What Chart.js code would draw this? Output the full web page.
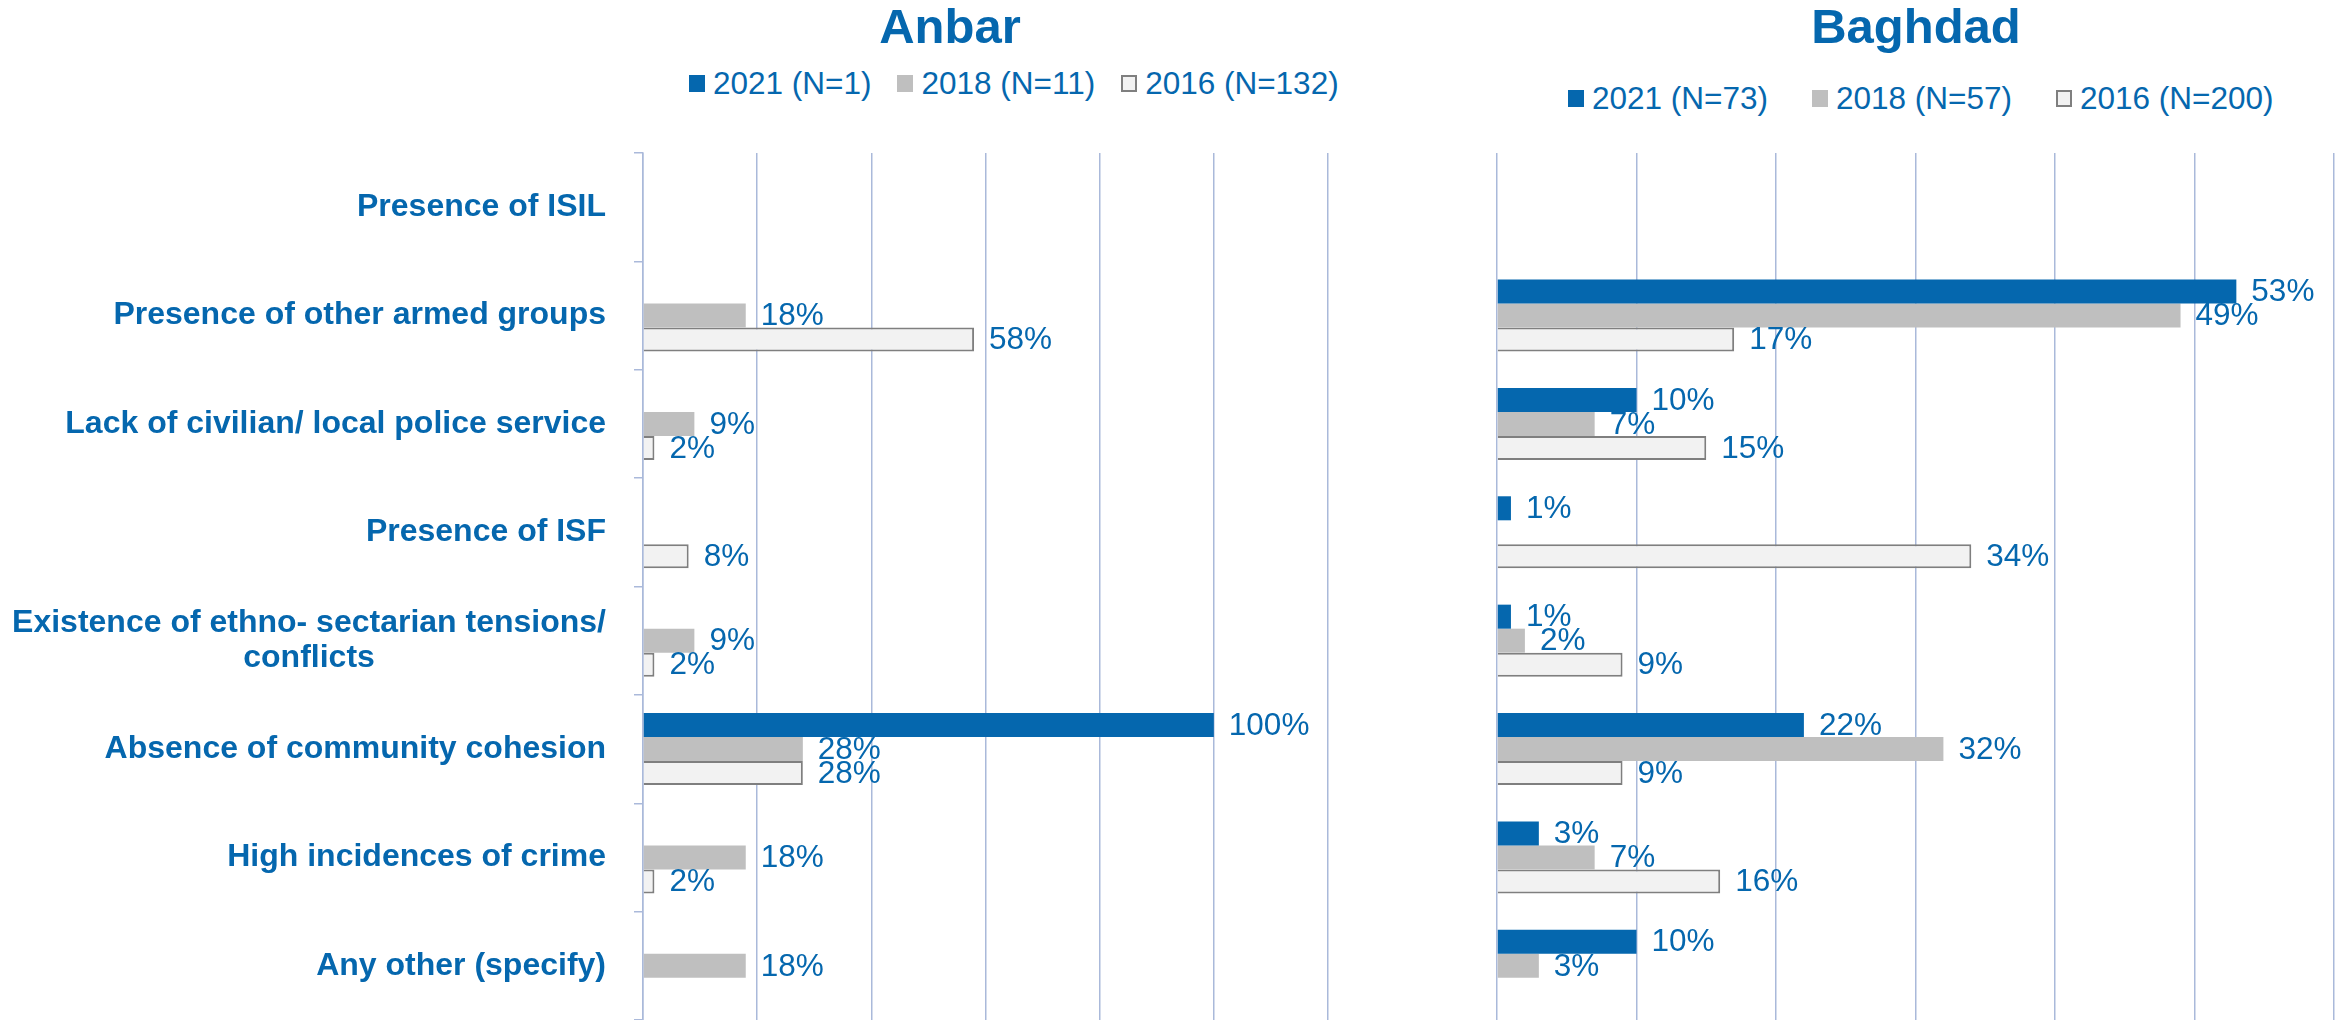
<!DOCTYPE html>
<html>
<head>
<meta charset="utf-8">
<title>Anbar / Baghdad</title>
<script src="https://cdn.jsdelivr.net/npm/chart.js@4.4.1/dist/chart.umd.min.js"></script>
<style>
  html, body { margin: 0; padding: 0; background: #fff; }
  body {
    width: 2343px; height: 1020px; position: relative; overflow: hidden;
    font-family: "Liberation Sans", Arial, sans-serif; color: #0567ae;
  }
  .title {
    position: absolute; top: 2px; transform: translateX(-50%);
    font-weight: bold; font-size: 49px; line-height: 49px; white-space: nowrap;
  }
  .legend {
    position: absolute; display: flex; align-items: center;
    font-size: 31.5px; line-height: 31.5px; white-space: nowrap;
  }
  .legend .item { display: flex; align-items: center; }
  .legend .box { width: 16px; height: 17px; margin-right: 8px; box-sizing: border-box; }
  canvas { position: absolute; top: 0; }
</style>
</head>
<body>
<div class="title" style="left:950px">Anbar</div>
<div class="title" style="left:1916px">Baghdad</div>
<div class="legend" id="legendAnbar" style="left:689px; top:68px"></div>
<div class="legend" id="legendBaghdad" style="left:1568px; top:83px"></div>
<canvas id="chartAnbar" width="1400" height="1020" style="left:0"></canvas>
<canvas id="chartBaghdad" width="943" height="1020" style="left:1400px"></canvas>

<script>
// categories (the long one wraps on two lines like in the original)
const categories = [
    "Presence of ISIL",
    "Presence of other armed groups",
    "Lack of civilian/ local police service",
    "Presence of ISF",
    ["Existence of ethno- sectarian tensions/", "conflicts"],
    "Absence of community cohesion",
    "High incidences of crime",
    "Any other (specify)"
];

// Anbar, % of respondents
const anbarNames = ["2021 (N=1)", "2018 (N=11)", "2016 (N=132)"];
const anbar2021 = [null, null, null, null, null, 100, null, null];
const anbar2018 = [null, 18, 9, null, 9, 28, 18, 18];
const anbar2016 = [null, 58, 2, 8, 2, 28, 2, null];
const anbarMax = 120;
const anbarStep = 20;

// Baghdad, % of respondents
const baghdadNames = ["2021 (N=73)", "2018 (N=57)", "2016 (N=200)"];
const baghdad2021 = [null, 53, 10, 1, 1, 22, 3, 10];
const baghdad2018 = [null, 49, 7, null, 2, 32, 7, 3];
const baghdad2016 = [null, 17, 15, 34, 9, 9, 16, null];
const baghdadMax = 60;
const baghdadStep = 10;

const blue = "#0567ae";
const gridColor = "#aab9da";
const fontFamily = "'Liberation Sans', Arial, sans-serif";

const yearStyles = [
    { backgroundColor: blue, borderColor: blue, borderWidth: 0 },
    { backgroundColor: "#bfbfbf", borderColor: "#bfbfbf", borderWidth: 0 },
    { backgroundColor: "#f2f2f2", borderColor: "#7f7f7f", borderWidth: 2 }
];

// Chart.js right-aligns every line of a wrapped label, Excel centres them.
// Pad the short lines with no-break spaces so they sit in the middle.
const measureCtx = document.createElement("canvas").getContext("2d");
function centerLines(lines) {
    measureCtx.font = "bold 32px " + fontFamily;
    const widths = lines.map(l => measureCtx.measureText(l).width);
    const max = Math.max(...widths);
    const nb = measureCtx.measureText("\u00A0").width;
    return lines.map((l, i) => l + "\u00A0".repeat(Math.round((max - widths[i]) / 2 / nb)));
}

// value labels at the end of each bar
const valueLabels = {
    id: "valueLabels",
    afterDatasetsDraw(chart) {
        const ctx = chart.ctx;
        ctx.save();
        ctx.font = "31.5px " + fontFamily;
        ctx.fillStyle = blue;
        ctx.textAlign = "left";
        ctx.textBaseline = "middle";
        chart.data.datasets.forEach((ds, i) => {
            chart.getDatasetMeta(i).data.forEach((bar, j) => {
                const v = ds.data[j];
                if (v === null || v === undefined) return;
                ctx.fillText(v + "%", bar.x + 15, bar.y + 1);
            });
        });
        ctx.restore();
    }
};

// legend as html, built from the chart's own legend items
const htmlLegend = {
    id: "htmlLegend",
    afterUpdate(chart, args, options) {
        const holder = document.getElementById(options.containerID);
        holder.innerHTML = "";
        const items = chart.options.plugins.legend.labels.generateLabels(chart);
        items.forEach((item, i) => {
            const el = document.createElement("span");
            el.className = "item";
            if (i < items.length - 1) el.style.marginRight = options.gap + "px";
            const sw = document.createElement("span");
            sw.className = "box";
            sw.style.background = item.fillStyle;
            if (item.lineWidth) sw.style.border = item.lineWidth + "px solid " + item.strokeStyle;
            const tx = document.createElement("span");
            tx.textContent = item.text;
            el.append(sw, tx);
            holder.append(el);
        });
    }
};

function makeChart(canvasId, legendId, legendGap, names, series, xMax, xStep, showLabels, padding) {
    const ctx = document.getElementById(canvasId).getContext("2d");
    return new Chart(ctx, {
        type: "bar",
        data: {
            labels: categories,
            datasets: series.map((data, i) => Object.assign({
                label: names[i],
                data: data,
                categoryPercentage: 0.665,
                barPercentage: 1
            }, yearStyles[i]))
        },
        plugins: [valueLabels, htmlLegend],
        options: {
            indexAxis: "y",
            responsive: false,
            animation: false,
            layout: { padding: padding },
            plugins: {
                legend: { display: false },
                title: { display: false },
                tooltip: { enabled: false },
                htmlLegend: { containerID: legendId, gap: legendGap }
            },
            scales: {
                x: {
                    min: 0,
                    max: xMax,
                    ticks: { display: false, stepSize: xStep },
                    grid: { color: gridColor, lineWidth: 1.5, drawTicks: false },
                    border: { display: false },
                    afterFit: function (scale) { scale.height = 0; }
                },
                y: {
                    display: showLabels,
                    afterFit: function (scale) {
                        if (!showLabels) return;
                        scale.width = 643;
                        // labels sit inside the category bands, no extra room needed
                        scale.paddingTop = 0;
                        scale.paddingBottom = 0;
                    },
                    grid: { drawOnChartArea: false, color: gridColor, lineWidth: 1.5, tickLength: 9 },
                    border: { color: gridColor, width: 1.5 },
                    ticks: {
                        autoSkip: false,
                        padding: 28,
                        color: blue,
                        font: { family: fontFamily, size: 32, weight: "bold", lineHeight: 1.1 },
                        callback: function (value) {
                            const l = this.getLabelForValue(value);
                            return Array.isArray(l) ? centerLines(l) : l;
                        }
                    }
                }
            }
        }
    });
}

makeChart("chartAnbar", "legendAnbar", 26, anbarNames,
    [anbar2021, anbar2018, anbar2016], anbarMax, anbarStep, true,
    { left: 0, top: 153, right: 72, bottom: 0 });

makeChart("chartBaghdad", "legendBaghdad", 44, baghdadNames,
    [baghdad2021, baghdad2018, baghdad2016], baghdadMax, baghdadStep, false,
    { left: 97, top: 153, right: 9, bottom: 0 });
</script>
</body>
</html>
